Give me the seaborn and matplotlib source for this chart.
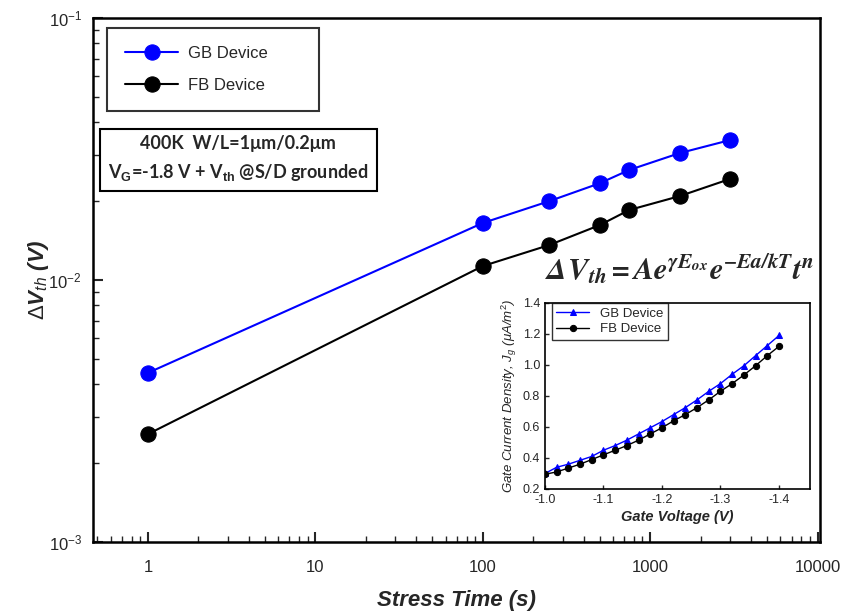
import matplotlib
matplotlib.use("Agg")
import matplotlib.pyplot as plt
import numpy as np
import pandas as pd
import seaborn as sns

# main plot data
stress_time = [1, 100, 250, 500, 750, 1500, 3000]
gb_dvth = [0.00442, 0.0165, 0.0200, 0.0234, 0.0263, 0.0305, 0.0342]
fb_dvth = [0.00258, 0.0113, 0.0136, 0.0162, 0.0185, 0.0209, 0.0243]

# inset data
gate_v = [-1.00, -1.02, -1.04, -1.06, -1.08, -1.10, -1.12, -1.14, -1.16, -1.18, -1.20,
          -1.22, -1.24, -1.26, -1.28, -1.30, -1.32, -1.34, -1.36, -1.38, -1.40]
gb_jg = [0.30, 0.34, 0.36, 0.385, 0.41, 0.45, 0.48, 0.515, 0.555, 0.595, 0.635,
         0.68, 0.725, 0.775, 0.83, 0.88, 0.94, 0.995, 1.06, 1.125, 1.19]
fb_jg = [0.295, 0.31, 0.335, 0.36, 0.39, 0.42, 0.45, 0.48, 0.515, 0.555, 0.595,
         0.64, 0.68, 0.725, 0.775, 0.83, 0.88, 0.935, 0.995, 1.06, 1.12]

sns.set_style("ticks")
plt.rcParams['font.family'] = ['Liberation Sans', 'DejaVu Sans']
plt.rcParams['mathtext.fontset'] = 'custom'
plt.rcParams['mathtext.rm'] = 'Liberation Sans'
plt.rcParams['mathtext.it'] = 'Liberation Sans:italic'
plt.rcParams['mathtext.bf'] = 'Liberation Sans:bold'

fig = plt.figure(figsize=(8.47, 6.12), dpi=100)
ax = fig.add_axes([0.1098, 0.1144, 0.858, 0.8562])

sns.lineplot(x=stress_time, y=gb_dvth, ax=ax, color='blue', marker='o', markersize=11,
             markeredgecolor='blue', linewidth=1.5, label='GB Device')
sns.lineplot(x=stress_time, y=fb_dvth, ax=ax, color='black', marker='o', markersize=11,
             markeredgecolor='black', linewidth=1.5, label='FB Device')

ax.set_xscale('log')
ax.set_yscale('log')
ax.set_xlim(0.47, 10300)
ax.set_ylim(1e-3, 1e-1)
ax.set_xticks([1, 10, 100, 1000, 10000])
ax.set_xticklabels(['1', '10', '100', '1000', '10000'])
ax.tick_params(which='both', bottom=True, left=True, top=False, right=False)
ax.tick_params(which='major', direction='in', length=7, width=1.5, labelsize=12)
ax.tick_params(axis='x', which='major', pad=13)
ax.tick_params(axis='y', which='major', pad=8)
ax.tick_params(which='minor', direction='in', length=4, width=1.0)
for s in ax.spines.values():
    s.set_linewidth(1.8)
    s.set_color('black')

ax.set_xlabel('Stress Time (s)', fontsize=16, fontweight='bold', style='italic', labelpad=11)
ax.set_ylabel(r'$\Delta$V$_{th}$ (V)', fontsize=16, fontweight='bold', style='italic', labelpad=-2)

leg = ax.legend(loc='upper left', bbox_to_anchor=(0.019, 0.981), fontsize=12, frameon=True,
                fancybox=False, edgecolor='black', handlelength=3.2, borderpad=1.1,
                labelspacing=1.0, handletextpad=0.6, borderaxespad=0)
leg.get_frame().set_linewidth(1.5)
for t in leg.get_texts():
    t.set_text(t.get_text() + '       ')

ax.text(0.021, 0.776,
        '400K  W/L=1\u03bcm/0.2\u03bcm\nV$_\\mathbf{G}$=-1.8 V + V$_\\mathbf{th}$ @S/D grounded',
        transform=ax.transAxes, fontsize=13, fontweight='bold', family=['Lato', 'DejaVu Sans'],
        ha='left', va='top', linespacing=1.6, multialignment='center',
        bbox=dict(boxstyle='square,pad=0.45', facecolor='white', edgecolor='black', linewidth=1.5))

ax.text(0.622, 0.52, r'$\mathbfit{\Delta V_{th} = Ae^{\gamma E_{ox}}e^{-Ea/kT}t^{n}}$',
        transform=ax.transAxes, fontsize=22, ha='left', va='center',
        math_fontfamily='stix')

# inset
ax2 = fig.add_axes([0.6434, 0.201, 0.3129, 0.304])
sns.lineplot(x=gate_v, y=gb_jg, ax=ax2, color='blue', marker='^', markersize=5,
             markeredgecolor='blue', linewidth=1.0, label='GB Device')
sns.lineplot(x=gate_v, y=fb_jg, ax=ax2, color='black', marker='o', markersize=4.5,
             markeredgecolor='black', linewidth=1.0, label='FB Device')
ax2.set_xlim(-1.0, -1.453)
ax2.set_ylim(0.2, 1.4)
ax2.set_xticks([-1.0, -1.1, -1.2, -1.3, -1.4])
ax2.set_xticklabels(['-1.0', '-1.1', '-1.2', '-1.3', '-1.4'])
ax2.set_yticks([0.2, 0.4, 0.6, 0.8, 1.0, 1.2, 1.4])
ax2.set_yticklabels(['0.2', '0.4', '0.6', '0.8', '1.0', '1.2', '1.4'])
ax2.tick_params(direction='in', length=3, width=1.0, labelsize=9, top=False, right=False)
for s in ax2.spines.values():
    s.set_linewidth(1.2)
    s.set_color('black')
ax2.set_xlabel('Gate Voltage (V)', fontsize=10.5, fontweight='bold', style='italic', labelpad=3)
ax2.set_ylabel(r'Gate Current Density, J$_g$ ($\mu$A/m$^2$)', fontsize=9.5, style='italic',
               labelpad=3)
leg2 = ax2.legend(loc='upper left', bbox_to_anchor=(0.025, 1.0), fontsize=9.5, frameon=True,
                  fancybox=False, edgecolor='black', handlelength=2.5, borderpad=0.35,
                  labelspacing=0.25, borderaxespad=0)
leg2.get_frame().set_linewidth(1.0)

fig.savefig('out.png', dpi=100)
